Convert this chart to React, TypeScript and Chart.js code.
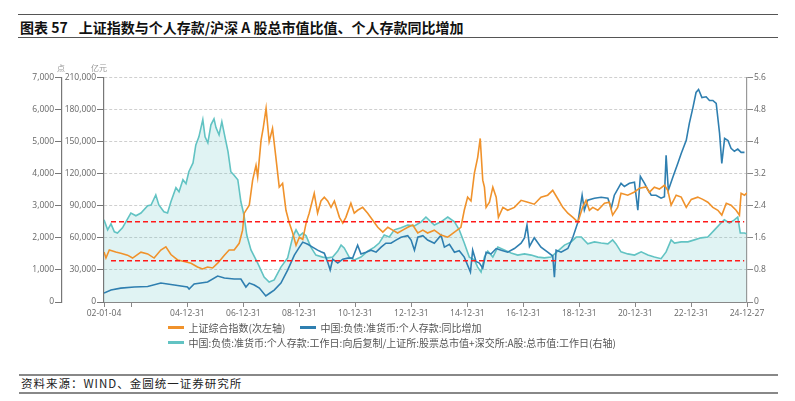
import React, { useEffect, useRef } from 'react'
import Chart from 'chart.js/auto'

// x positions are decimal years (2002.02 = 2002-01-04)
const xTickValues = [2002.02, 2003, 2005, 2007, 2009, 2011, 2013, 2015, 2017, 2019, 2021, 2023, 2024.99]
const xTickLabels = ['02-01-04', '', '04-12-31', '06-12-31', '08-12-31', '10-12-31', '12-12-31', '14-12-31', '16-12-31', '18-12-31', '20-12-31', '22-12-31', '24-12-27']

// 上证综合指数 (次左轴)
const indexDates = [
  2002.02, 2002.09, 2002.21, 2002.44, 2002.62, 2002.86, 2003.04, 2003.34, 2003.58, 2003.81,
  2004.05, 2004.23, 2004.41, 2004.65, 2004.89, 2005.13, 2005.36, 2005.54, 2005.72, 2005.9,
  2006.08, 2006.32, 2006.49, 2006.67, 2006.85, 2006.97, 2007.03, 2007.21, 2007.33, 2007.45,
  2007.51, 2007.63, 2007.71, 2007.81, 2007.92, 2008.04, 2008.16, 2008.28, 2008.4, 2008.52,
  2008.64, 2008.76, 2008.88, 2009.0, 2009.12, 2009.24, 2009.35, 2009.53, 2009.65, 2009.77,
  2009.89, 2010.01, 2010.13, 2010.25, 2010.43, 2010.55, 2010.66, 2010.84, 2010.96, 2011.08,
  2011.26, 2011.44, 2011.62, 2011.8, 2011.98, 2012.16, 2012.33, 2012.51, 2012.69, 2012.87,
  2013.05, 2013.23, 2013.41, 2013.58, 2013.82, 2014.06, 2014.3, 2014.54, 2014.77, 2014.89,
  2015.01, 2015.13, 2015.25, 2015.37, 2015.46, 2015.55, 2015.61, 2015.67, 2015.79, 2015.91,
  2016.03, 2016.11, 2016.27, 2016.44, 2016.68, 2016.92, 2017.16, 2017.39, 2017.63, 2017.87,
  2018.05, 2018.23, 2018.41, 2018.59, 2018.77, 2018.95, 2019.12, 2019.24, 2019.36, 2019.48,
  2019.66, 2019.9, 2020.07, 2020.19, 2020.37, 2020.49, 2020.73, 2020.97, 2021.15, 2021.39,
  2021.5, 2021.68, 2021.86, 2022.04, 2022.16, 2022.28, 2022.46, 2022.64, 2022.82, 2023.0,
  2023.23, 2023.41, 2023.59, 2023.77, 2023.95, 2024.09, 2024.25, 2024.42, 2024.6, 2024.72,
  2024.78, 2024.9, 2024.99,
]
const indexValues = [
  1560, 1370, 1620, 1560, 1520, 1460, 1370, 1555, 1500, 1370,
  1620, 1720, 1480, 1310, 1260, 1210, 1090, 1030, 1090, 1060,
  1210, 1460, 1620, 1620, 1830, 2240, 2770, 3020, 3800, 4260,
  3900, 5040, 5440, 6040, 5000, 5410, 4510, 3580, 3700, 2860,
  2460, 2150, 1770, 2020, 1950, 2460, 2770, 3390, 2770, 3150,
  3270, 3150, 2950, 3150, 2640, 2460, 2640, 3080, 2770, 2860,
  2950, 2770, 2550, 2330, 2180, 2330, 2240, 2150, 2240, 2330,
  2400, 2150, 2240, 2150, 2240, 2085, 2020, 2180, 2330, 2860,
  3270, 3150, 4010, 4510, 5100, 3800, 3580, 2950, 3110, 3580,
  3270, 2640, 2950, 2860, 2950, 3170, 3110, 3050, 3270, 3330,
  3480, 3220, 2950, 2770, 2640, 2490, 2960, 3170, 2860, 2950,
  2860, 3080, 3110, 2710, 2950, 3390, 3330, 3430, 3550, 3590,
  3420, 3580, 3520, 3640, 3480, 3020, 3330, 3270, 2950, 3200,
  3270, 3200, 3110, 2950, 2860, 2710, 3080, 3020, 2860, 2710,
  3390, 3330, 3400,
]

// 中国:负债:准货币:个人存款:同比增加 (亿元)
const depDates = [
  2002.02, 2002.27, 2002.62, 2003.1, 2003.58, 2004.05, 2004.53, 2005.0, 2005.06, 2005.24,
  2005.72, 2006.08, 2006.32, 2006.67, 2006.91, 2007.09, 2007.21, 2007.39, 2007.57, 2007.8,
  2007.95, 2008.1, 2008.34, 2008.58, 2008.82, 2009.0, 2009.12, 2009.3, 2009.47, 2009.65,
  2009.77, 2009.89, 2010.01, 2010.1, 2010.19, 2010.37, 2010.55, 2010.73, 2010.9, 2011.08,
  2011.2, 2011.38, 2011.56, 2011.74, 2011.92, 2012.09, 2012.27, 2012.45, 2012.63, 2012.87,
  2012.99, 2013.11, 2013.23, 2013.41, 2013.58, 2013.82, 2014.06, 2014.18, 2014.36, 2014.54,
  2014.71, 2014.89, 2015.11, 2015.19, 2015.31, 2015.43, 2015.55, 2015.67, 2015.85, 2016.03,
  2016.21, 2016.44, 2016.68, 2016.92, 2017.04, 2017.13, 2017.22, 2017.39, 2017.63, 2017.87,
  2018.05, 2018.11, 2018.17, 2018.35, 2018.59, 2018.77, 2018.95, 2019.1, 2019.18, 2019.3,
  2019.54, 2019.78, 2020.02, 2020.14, 2020.25, 2020.49, 2020.61, 2020.79, 2020.97, 2021.09,
  2021.18, 2021.33, 2021.45, 2021.57, 2021.74, 2021.92, 2022.04, 2022.1, 2022.18, 2022.34,
  2022.52, 2022.64, 2022.82, 2022.93, 2023.06, 2023.17, 2023.26, 2023.38, 2023.53, 2023.65,
  2023.77, 2023.89, 2024.01, 2024.09, 2024.19, 2024.31, 2024.42, 2024.54, 2024.66, 2024.78,
  2024.9,
]
const depValues = [
  8400, 11200, 13000, 14000, 14500, 17700, 15900, 14000, 12100, 16800,
  18700, 24300, 22500, 21500, 21500, 14000, 17700, 15900, 13000, 5600,
  8400, 11200, 17700, 29900, 43900, 51300, 56000, 54000, 51300, 48500,
  47000, 45700, 37300, 29900, 40000, 36400, 40000, 41000, 41000, 53200,
  45000, 46600, 48500, 46600, 51300, 55000, 55000, 57900, 60600, 62000,
  57900, 48500, 60600, 62000, 58000, 55000, 62500, 51300, 54000, 46600,
  48000, 42000, 28000, 48500, 38000, 36400, 31700, 46600, 45000, 50000,
  48500, 46600, 50000, 55000, 60000, 71900, 52000, 60000, 51300, 46600,
  43000, 23300, 48500, 46600, 50000, 60600, 74700, 99900, 85900, 95200,
  97000, 98000, 97100, 87700, 99900, 111000, 108000, 111000, 112000, 85900,
  117600, 111000, 105000, 99900, 99900, 97100, 98500, 137200, 104500, 116700,
  129700, 139000, 151200, 167100, 182000, 196000, 198800, 191300, 192000, 188500,
  188500, 185700, 157700, 129700, 153000, 151000, 143700, 141000, 143000, 140000,
  140000,
]

// 个人存款 / 沪深A股总市值 (右轴)
const ratioDates = [
  2002.02, 2002.15, 2002.27, 2002.39, 2002.5, 2002.68, 2002.98, 2003.16, 2003.34, 2003.58,
  2003.7, 2003.87, 2003.98, 2004.16, 2004.29, 2004.41, 2004.59, 2004.7, 2004.84, 2004.95,
  2005.05, 2005.2, 2005.3, 2005.41, 2005.55, 2005.63, 2005.73, 2005.84, 2005.95, 2006.02,
  2006.13, 2006.23, 2006.34, 2006.45, 2006.55, 2006.66, 2006.8, 2006.91, 2007.02, 2007.12,
  2007.27, 2007.51, 2007.74, 2007.92, 2008.1, 2008.34, 2008.58, 2008.76, 2008.88, 2009.0,
  2009.12, 2009.24, 2009.41, 2009.59, 2009.83, 2010.01, 2010.19, 2010.37, 2010.49, 2010.6,
  2010.78, 2010.96, 2011.2, 2011.44, 2011.68, 2011.85, 2012.03, 2012.21, 2012.39, 2012.63,
  2012.87, 2013.11, 2013.35, 2013.52, 2013.7, 2013.82, 2014.06, 2014.3, 2014.54, 2014.71,
  2014.89, 2015.07, 2015.25, 2015.37, 2015.49, 2015.61, 2015.73, 2015.91, 2016.09, 2016.32,
  2016.56, 2016.8, 2017.04, 2017.28, 2017.52, 2017.75, 2017.99, 2018.23, 2018.47, 2018.71,
  2018.89, 2019.07, 2019.3, 2019.54, 2019.78, 2020.02, 2020.19, 2020.31, 2020.49, 2020.73,
  2020.97, 2021.21, 2021.45, 2021.68, 2021.92, 2022.1, 2022.28, 2022.4, 2022.64, 2022.88,
  2023.11, 2023.35, 2023.59, 2023.83, 2024.06, 2024.18, 2024.36, 2024.54, 2024.66, 2024.75,
  2024.9, 2024.97,
]
const ratioValues = [
  2.05, 1.8, 1.95, 1.75, 1.72, 1.85, 2.22, 2.15, 2.22, 2.4,
  2.42, 2.67, 2.42, 2.25, 2.22, 2.5, 2.85, 2.75, 3.05, 2.95,
  3.25, 3.47, 3.92, 4.12, 4.55, 4.12, 3.97, 4.42, 4.57, 4.35,
  4.17, 4.5, 4.12, 3.75, 3.25, 3.17, 3.05, 2.5, 2.17, 1.67,
  1.3, 0.97, 0.62, 0.5, 0.55, 0.87, 1.1, 1.62, 1.8, 1.65,
  1.72, 1.65, 1.37, 1.17, 1.12, 1.1, 1.12, 1.27, 1.42, 1.35,
  1.12, 1.05, 1.12, 1.27, 1.37, 1.47, 1.67, 1.62, 1.8, 1.85,
  1.92, 1.9, 2.0, 2.12, 2.0, 1.92, 2.0, 2.12, 2.0, 1.8,
  1.47, 1.12, 1.05, 0.87, 0.75, 1.12, 1.27, 1.12, 1.37, 1.3,
  1.22, 1.17, 1.2, 1.17, 1.12, 1.1, 1.12, 1.27, 1.42, 1.5,
  1.62, 1.62, 1.45, 1.5, 1.47, 1.45, 1.55, 1.45, 1.25, 1.2,
  1.17, 1.25, 1.17, 1.12, 1.08, 1.25, 1.55, 1.47, 1.5, 1.5,
  1.55, 1.6, 1.62, 1.8, 1.97, 2.05, 1.97, 2.05, 2.12, 1.72,
  1.72, 1.7,
]

// red dashed reference levels on the right axis
const refLevels = [2.0, 1.03]
const refRange = [2002.27, 2024.89]

const ORANGE = '#f0922b'
const BLUE = '#2f7fb0'
const TEAL = '#62c3c3'
const tickFont = { family: "'Open Sans', 'Noto Sans', sans-serif", size: 8.5 }

const toPoints = (xs: number[], ys: number[]) => xs.map((x, i) => ({ x, y: ys[i] }))

const unitLabels = {
  id: 'unitLabels',
  afterDraw(chart: any) {
    const { ctx, chartArea, scales } = chart
    ctx.save()
    ctx.font = '8px "Noto Sans CJK SC"'
    ctx.fillStyle = '#999'
    ctx.textAlign = 'center'
    ctx.textBaseline = 'middle'
    ctx.fillText('点', scales.yIndex.right - 1, chartArea.top - 10)
    ctx.fillText('亿元', scales.yDeposit.right - 5, chartArea.top - 10)
    ctx.restore()
  },
}

const ChartBox = () => {
  const chartRef = useRef<HTMLCanvasElement>(null)

  useEffect(() => {
    const refSets = refLevels.map((level) => ({
      label: 'ref',
      data: refRange.map((x) => ({ x, y: level })),
      yAxisID: 'yRatio',
      borderColor: '#ff1a1a',
      borderWidth: 1.5,
      borderDash: [5, 3],
      pointRadius: 0,
      fill: false,
      order: 0,
    }))

    const chartInstance = new Chart(chartRef.current as HTMLCanvasElement, {
      type: 'line',
      data: {
        datasets: [
          {
            label: '上证综合指数(次左轴)',
            data: toPoints(indexDates, indexValues),
            yAxisID: 'yIndex',
            borderColor: ORANGE,
            borderWidth: 1.6,
            pointRadius: 0,
            fill: false,
            order: 1,
          },
          {
            label: '中国:负债:准货币:个人存款:同比增加',
            data: toPoints(depDates, depValues),
            yAxisID: 'yDeposit',
            borderColor: BLUE,
            borderWidth: 1.6,
            pointRadius: 0,
            fill: false,
            order: 2,
          },
          {
            label: '中国:负债:准货币:个人存款:工作日:向后复制/上证所:股票总市值+深交所:A股:总市值:工作日(右轴)',
            data: toPoints(ratioDates, ratioValues),
            yAxisID: 'yRatio',
            borderColor: TEAL,
            backgroundColor: 'rgba(98,195,195,0.2)',
            borderWidth: 1.6,
            pointRadius: 0,
            fill: 'origin',
            order: 3,
          },
          ...refSets,
        ],
      },
      options: {
        animation: false,
        responsive: true,
        maintainAspectRatio: false,
        layout: { padding: { top: 29.5, left: 0, right: 0, bottom: 0 } },
        plugins: {
          legend: { display: false },
          tooltip: { enabled: false },
        },
        scales: {
          x: {
            type: 'linear',
            min: 2002.02,
            max: 2024.99,
            afterBuildTicks: (scale: any) => {
              scale.ticks = xTickValues.map((value) => ({ value }))
            },
            afterFit: (scale: any) => {
              scale.height = 20
            },
            ticks: {
              autoSkip: false,
              maxRotation: 0,
              padding: 1,
              color: '#666',
              font: tickFont,
              callback: (_v: any, i: number) => xTickLabels[i],
            },
            grid: { drawOnChartArea: false, drawTicks: true, tickLength: 5, tickColor: '#888' },
            border: { color: '#888', width: 1 },
          },
          yIndex: {
            type: 'linear',
            position: 'left',
            weight: 1,
            min: 0,
            max: 7000,
            afterFit: (scale: any) => {
              scale.width = 54
            },
            ticks: { stepSize: 1000, padding: 1, color: '#666', font: tickFont },
            grid: { drawOnChartArea: false, drawTicks: true, tickLength: 7, tickColor: '#777' },
            border: { color: '#777', width: 1.2 },
          },
          yDeposit: {
            type: 'linear',
            position: 'left',
            weight: 0,
            min: 0,
            max: 210000,
            afterFit: (scale: any) => {
              scale.width = 42
            },
            ticks: { stepSize: 30000, padding: 1, color: '#666', font: tickFont },
            grid: {
              drawOnChartArea: true,
              drawTicks: true,
              tickLength: 7,
              color: '#cfcfcf',
              tickColor: '#777',
              tickBorderDash: [],
            },
            border: { color: '#777', width: 1.2, dash: [3, 2] },
          },
          yRatio: {
            type: 'linear',
            position: 'right',
            min: 0,
            max: 5.6,
            afterFit: (scale: any) => {
              scale.width = 40
            },
            ticks: {
              stepSize: 0.8,
              padding: 1,
              color: '#666',
              font: tickFont,
              callback: (v: any) => String(Number(Number(v).toFixed(1))),
            },
            grid: { drawOnChartArea: false, drawTicks: true, tickLength: 6, tickColor: '#888' },
            border: { color: '#999', width: 1.2 },
          },
        },
      },
      plugins: [unitLabels],
    } as any)

    return () => {
      chartInstance.destroy()
    }
  }, [])

  return <canvas ref={chartRef} />
}

const legendRow = (top: number, left: number, color: string, text: string) => (
  <div
    style={{
      position: 'absolute',
      top: top - 7,
      left,
      height: 14,
      display: 'flex',
      alignItems: 'center',
      whiteSpace: 'nowrap',
      fontSize: 10,
      color: '#555',
    }}
  >
    <span style={{ display: 'inline-block', width: 16, height: 2.5, background: color, marginRight: 4.5 }} />
    <span>{text}</span>
  </div>
)

const App = () => {
  return (
    <div
      style={{
        position: 'relative',
        width: 779,
        height: 393,
        fontFamily: "'Noto Sans CJK SC', 'Noto Sans', sans-serif",
      }}
    >
      <div style={{ position: 'absolute', left: 10, top: 5.5, width: 760, borderTop: '1.5px solid #555' }} />
      <div
        style={{
          position: 'absolute',
          left: 12,
          top: 10.5,
          fontSize: 14,
          fontWeight: 'bold',
          lineHeight: '16px',
          color: '#111',
          whiteSpace: 'nowrap',
        }}
      >
        图表 57<span style={{ marginLeft: 11 }}>上证指数与个人存款/沪深 A 股总市值比值、个人存款同比增加</span>
      </div>
      <div style={{ position: 'absolute', left: 10, top: 28.5, width: 760, borderTop: '1.5px solid #555' }} />

      <div style={{ position: 'absolute', left: 0, top: 40, width: 779, height: 274 }}>
        <ChartBox />
      </div>

      {legendRow(319.7, 160, ORANGE, '上证综合指数(次左轴)')}
      {legendRow(319.7, 292, BLUE, '中国:负债:准货币:个人存款:同比增加')}
      {legendRow(334.7, 160, TEAL, '中国:负债:准货币:个人存款:工作日:向后复制/上证所:股票总市值+深交所:A股:总市值:工作日(右轴)')}

      <div style={{ position: 'absolute', left: 11, top: 366.3, width: 759, borderTop: '2px solid #888' }} />
      <div
        style={{
          position: 'absolute',
          left: 13,
          top: 368.3,
          fontSize: 11.5,
          lineHeight: '14px',
          letterSpacing: 1,
          color: '#222',
          whiteSpace: 'nowrap',
        }}
      >
        资料来源：WIND、金圆统一证券研究所
      </div>
      <div style={{ position: 'absolute', left: 11, top: 383.7, width: 759, borderTop: '2px solid #888' }} />
    </div>
  )
}

export default App
